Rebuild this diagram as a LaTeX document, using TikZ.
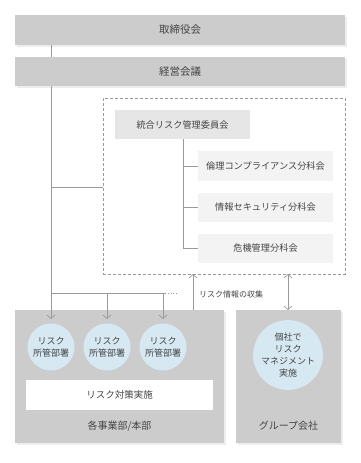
\documentclass[tikz,border=0pt]{standalone}
\usepackage{fontspec}
\setmainfont{Noto Sans CJK JP}
\usetikzlibrary{arrows.meta,calc}
\definecolor{boxgray}{HTML}{CCCCCC}
\definecolor{midgray}{HTML}{E6E6E6}
\definecolor{lightgray}{HTML}{F3F3F3}
\definecolor{linegray}{HTML}{9A9A9A}
\definecolor{txt}{HTML}{444444}
\definecolor{circblue}{HTML}{D6E9F2}
\begin{document}
\begin{tikzpicture}[x=1pt,y=-1pt,
  every node/.style={text=txt,inner sep=0pt,outer sep=0pt},
  mainbox/.style={fill=boxgray,draw=none,font=\fontsize{10.5}{12}\selectfont},
  combox/.style={fill=midgray,draw=none,font=\fontsize{9.2}{11}\selectfont},
  subbox/.style={fill=lightgray,draw=none,font=\fontsize{9.2}{11}\selectfont},
  circ/.style={circle,fill=circblue,draw=none,align=center,font=\fontsize{9}{12}\selectfont},
  conn/.style={draw=linegray,line width=0.8pt},
  arr/.style={conn,-{Straight Barb[length=3.5pt,width=8pt,line width=0.7pt]}},
  darr/.style={conn,{Straight Barb[length=3.5pt,width=8pt,line width=0.7pt]}-{Straight Barb[length=3.5pt,width=8pt,line width=0.7pt]}},
  shadow/.style={fill=black!7,draw=none}]
\useasboundingbox (0,0) rectangle (361,463);
% shadows
\fill[shadow] (16.5,16.5) rectangle (346.5,46.5);
\fill[shadow] (16.5,58.5) rectangle (346.5,87.5);
\fill[shadow] (16.5,311.5) rectangle (225.5,444.5);
\fill[shadow] (237.5,311.5) rectangle (342.5,444.5);
% top boxes
\node[mainbox,minimum width=330,minimum height=30] (board) at (180,30) {取締役会};
\node[mainbox,minimum width=330,minimum height=29] (mgmt) at (180,71.5) {経営会議};
% dashed frame
\node[draw=linegray,line width=0.6pt,dash pattern=on 3pt off 2pt,minimum width=242,minimum height=176] (frame) at (224,186) {};
\node[combox,minimum width=135,minimum height=29] (com) at (182.5,124.5) {統合リスク管理委員会};
\node[subbox,minimum width=135,minimum height=30] (s1) at (265.5,166) {倫理コンプライアンス分科会};
\node[subbox,minimum width=135,minimum height=29] (s2) at (265.5,207.5) {情報セキュリティ分科会};
\node[subbox,minimum width=135,minimum height=29] (s3) at (265.5,248.5) {危機管理分科会};
% bottom boxes
\node[mainbox,minimum width=209,minimum height=133] (biz) at (119.5,376.5) {};
\node[mainbox,minimum width=105,minimum height=133] (grp) at (288.5,376.5) {};
\node[font=\fontsize{10}{12}\selectfont] (bizlabel) at (119.5,426) {各事業部/本部};
\node[font=\fontsize{10}{12}\selectfont] (grplabel) at (288.5,426) {グループ会社};
\node[fill=white,minimum width=187,minimum height=30,font=\fontsize{9.5}{11}\selectfont] (measure) at (119.5,395) {リスク対策実施};
\node[circ,minimum size=47] (c1) at (51,347) {リスク\\所管部署};
\node[circ,minimum size=47] (c2) at (107,347) {リスク\\所管部署};
\node[circ,minimum size=47] (c3) at (163,347) {リスク\\所管部署};
\node[circ,minimum size=56] (gc) at (288,355) {個社で\\リスク\\マネジメント\\実施};
% coordinates
\coordinate (vx) at (51,0);
\coordinate (by) at (0,187);
\coordinate (tipy) at (0,319);
\coordinate (j1) at (51,293);
\coordinate (j2) at (107,293);
\coordinate (j3) at (165,293);
\coordinate (jd) at (179,293);
\coordinate (k3) at (163,293);
\coordinate (cx) at (183,0);
% connectors
\draw[conn] (board.south -| vx) -- (mgmt.north -| vx);
\draw[arr] (mgmt.south -| vx) -- (tipy -| vx);
\draw[conn] (by -| vx) -- (frame.west |- by);
\draw[conn] (j1) -- (j3);
\draw[conn,dotted] (j3) -- (jd);
\draw[arr] (j2) -- (tipy -| j2);
\draw[arr] (k3) -- (tipy -| k3);
\draw[conn] (com.south -| cx) -- (s3.west -| cx);
\draw[conn] (s1.west -| cx) -- (s1.west);
\draw[conn] (s2.west -| cx) -- (s2.west);
\draw[conn] (s3.west -| cx) -- (s3.west);
\coordinate (ux) at (193,0);
\draw[arr] (biz.north -| ux) -- (frame.south -| ux);
\node[anchor=west,font=\fontsize{8}{10}\selectfont] (collect) at (199,294) {リスク情報の収集};
\coordinate (gx) at (288,0);
\draw[darr] (grp.north -| gx) -- (frame.south -| gx);
\end{tikzpicture}
\end{document}
